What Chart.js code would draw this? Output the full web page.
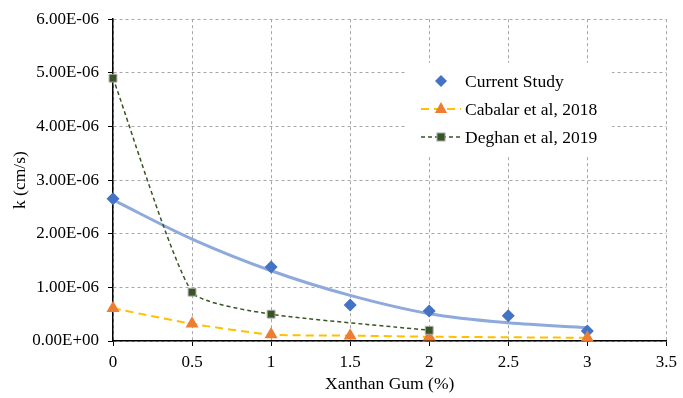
<!DOCTYPE html>
<html>
<head>
<meta charset="utf-8">
<script src="https://cdn.jsdelivr.net/npm/chart.js@4/dist/chart.umd.min.js"></script>
<style>
  html, body { margin: 0; padding: 0; background: #fff; }
  #wrap { width: 683px; height: 398px; }
</style>
</head>
<body>
<div id="wrap"><canvas id="kChart" width="683" height="398"></canvas></div>
<script>
// Data
const xTicks = [0, 0.5, 1, 1.5, 2, 2.5, 3, 3.5];

const currentX = [0, 1, 1.5, 2, 2.5, 3];
const currentK = [2.65e-6, 1.38e-6, 0.67e-6, 0.56e-6, 0.47e-6, 0.185e-6];

// trendline of the current study
const trendX = [0, 0.5, 1, 1.5, 2, 2.5, 3];
const trendK = [2.63e-6, 1.90e-6, 1.31e-6, 0.85e-6, 0.51e-6, 0.34e-6, 0.25e-6];

const cabalarX = [0, 0.5, 1, 1.5, 2, 3];
const cabalarK = [0.61e-6, 0.32e-6, 0.12e-6, 0.10e-6, 0.08e-6, 0.06e-6];

const deghanX = [0, 0.5, 1, 2];
const deghanK = [4.90e-6, 0.91e-6, 0.50e-6, 0.20e-6];

const seriesNames = ["Current Study", "Cabalar et al, 2018", "Deghan et al, 2019"];

const FONT = "'Liberation Serif', 'Times New Roman', serif";

function pts(xs, ys) {
  return xs.map((x, i) => ({ x: x, y: ys[i] }));
}

function fmtSci(v) {
  if (Math.abs(v) < 1e-12) return "0.00E+00";
  const parts = v.toExponential(2).split("e");
  const n = parseInt(parts[1], 10);
  return parts[0] + "E" + (n < 0 ? "-" : "+") + String(Math.abs(n)).padStart(2, "0");
}

// legend drawn inside the plot like the Excel one
const boxLegend = {
  id: "boxLegend",
  afterDatasetsDraw(chart) {
    const ctx = chart.ctx;
    ctx.save();
    ctx.fillStyle = "#fff";
    ctx.fillRect(405, 63, 207, 93);

    const rows = [
      { y: 81, line: null, draw: (x, y) => {
          ctx.fillStyle = "#4472C4";
          ctx.beginPath();
          ctx.moveTo(x - 6, y); ctx.lineTo(x, y - 6); ctx.lineTo(x + 6, y); ctx.lineTo(x, y + 6);
          ctx.closePath(); ctx.fill();
        } },
      { y: 109, line: { color: "#FFC000", width: 2, dash: [8, 5] }, draw: (x, y) => {
          ctx.fillStyle = "#ED7D31";
          ctx.beginPath();
          ctx.moveTo(x, y - 7); ctx.lineTo(x + 6.1, y + 4); ctx.lineTo(x - 6.1, y + 4);
          ctx.closePath(); ctx.fill();
        } },
      { y: 137, line: { color: "#375623", width: 1.5, dash: [4, 3] }, draw: (x, y) => {
          ctx.fillStyle = "#375623";
          ctx.strokeStyle = "#A5A5A5";
          ctx.lineWidth = 1;
          ctx.fillRect(x - 4, y - 4, 8, 8);
          ctx.strokeRect(x - 4, y - 4, 8, 8);
        } }
    ];

    rows.forEach((r, i) => {
      if (r.line) {
        ctx.save();
        ctx.strokeStyle = r.line.color;
        ctx.lineWidth = r.line.width;
        ctx.setLineDash(r.line.dash);
        ctx.beginPath();
        ctx.moveTo(421, r.y); ctx.lineTo(461, r.y);
        ctx.stroke();
        ctx.restore();
      }
      r.draw(441, r.y);
      ctx.fillStyle = "#000";
      ctx.font = "17.5px " + FONT;
      ctx.textBaseline = "middle";
      ctx.textAlign = "left";
      ctx.fillText(seriesNames[i], 465, r.y + 1);
    });
    ctx.restore();
  }
};

const ctxK = document.getElementById("kChart");
new Chart(ctxK, {
  type: "line",
  data: {
    datasets: [
      {
        label: "Deghan et al, 2019",
        data: pts(deghanX, deghanK),
        borderColor: "#375623",
        borderWidth: 1.5,
        borderDash: [4, 3],
        tension: 0.18,
        pointStyle: "rect",
        pointRadius: 5.5,
        pointBackgroundColor: "#375623",
        pointBorderColor: "#A5A5A5",
        pointBorderWidth: 1,
        clip: false,
        order: 1
      },
      {
        label: "Current Study",
        data: pts(currentX, currentK),
        showLine: false,
        pointStyle: "rectRot",
        pointRadius: 6.5,
        pointBackgroundColor: "#4472C4",
        pointBorderColor: "#4472C4",
        pointBorderWidth: 0,
        clip: false,
        order: 3
      },
      {
        label: "Cabalar et al, 2018",
        data: pts(cabalarX, cabalarK),
        borderColor: "#FFC000",
        borderWidth: 2,
        borderDash: [8, 5],
        tension: 0.18,
        pointStyle: "triangle",
        pointRadius: 7.5,
        pointBackgroundColor: "#ED7D31",
        pointBorderColor: "#ED7D31",
        pointBorderWidth: 0,
        clip: false,
        order: 2
      },
      {
        label: "trend",
        data: pts(trendX, trendK),
        borderColor: "#8EA9DB",
        borderWidth: 3,
        cubicInterpolationMode: "monotone",
        pointRadius: 0,
        clip: false,
        order: 4
      }
    ]
  },
  options: {
    responsive: false,
    animation: false,
    layout: { padding: { top: 16, right: 11, left: 0, bottom: 0 } },
    plugins: {
      legend: { display: false },
      tooltip: { enabled: false }
    },
    scales: {
      x: {
        type: "linear",
        min: 0,
        max: 3.5,
        afterBuildTicks: (scale) => { scale.ticks = xTicks.map(v => ({ value: v })); },
        afterFit: (scale) => { scale.height = 57; },
        grid: { color: "#A6A6A6", lineWidth: 1, tickColor: "#000", tickLength: 5, tickWidth: 1 },
        border: { display: true, color: "#000", width: 1.5, dash: [3, 3] },
        ticks: {
          color: "#000",
          font: { family: FONT, size: 17 },
          padding: 6,
          maxRotation: 0,
          callback: (v) => String(v)
        },
        title: {
          display: true,
          text: "Xanthan Gum (%)",
          color: "#000",
          font: { family: FONT, size: 17.5 },
          padding: { top: 0, bottom: 3 }
        }
      },
      y: {
        type: "linear",
        min: 0,
        max: 6e-6,
        ticks: {
          stepSize: 1e-6,
          color: "#000",
          font: { family: FONT, size: 17 },
          padding: 9,
          callback: (v) => fmtSci(v)
        },
        afterFit: (scale) => { scale.width = 113; },
        grid: { color: "#A6A6A6", lineWidth: 1, tickColor: "#000", tickLength: 5, tickWidth: 1 },
        border: { display: true, color: "#000", width: 1.5, dash: [3, 3] },
        title: {
          display: true,
          text: "k (cm/s)",
          color: "#000",
          font: { family: FONT, size: 17.5 },
          padding: { top: 10, bottom: 0 }
        }
      }
    }
  },
  plugins: [boxLegend]
});
</script>
</body>
</html>
